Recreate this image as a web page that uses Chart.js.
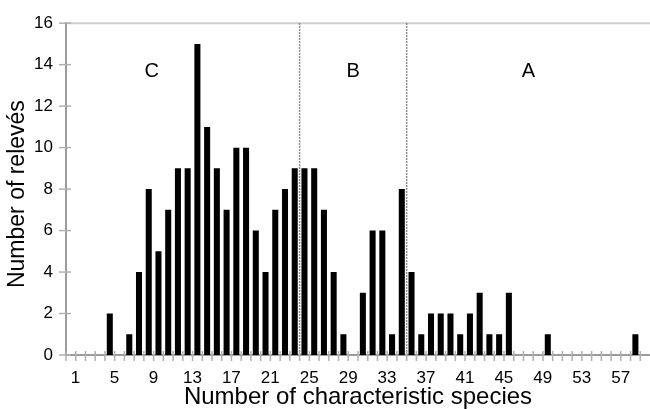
<!DOCTYPE html>
<html>
<head>
<meta charset="utf-8">
<script src="https://cdn.jsdelivr.net/npm/chart.js@4"></script>
<style>
  html, body { margin: 0; padding: 0; background: #fff; }
  #chart { display: block; }
</style>
</head>
<body>
<canvas id="chart" width="650" height="409"></canvas>
<script>
"use strict";

// ── DATA ─────────────────────────────────
const species = [
   0,  1,  2,  3,  4,  5,  6,  7,  8,  9,
  10, 11, 12, 13, 14, 15, 16, 17, 18, 19,
  20, 21, 22, 23, 24, 25, 26, 27, 28, 29,
  30, 31, 32, 33, 34, 35, 36, 37, 38, 39,
  40, 41, 42, 43, 44, 45, 46, 47, 48, 49,
  50, 51, 52, 53, 54, 55, 56, 57, 58, 59
];
const releves = [
   0,  0,  0,  0,  2,  0,  1,  4,  8,  5,
   7,  9,  9, 15, 11,  9,  7, 10, 10,  6,
   4,  7,  8,  9,  9,  9,  7,  4,  1,  0,
   3,  6,  6,  1,  8,  4,  1,  2,  2,  2,
   1,  2,  3,  1,  1,  3,  0,  0,  0,  1,
   0,  0,  0,  0,  0,  0,  0,  0,  1,  0
];
const xTickLabels = [1, 5, 9, 13, 17, 21, 25, 29, 33, 37, 41, 45, 49, 53, 57];
const yTicks = [0, 2, 4, 6, 8, 10, 12, 14, 16];

// zone boundaries (between categories) and zone letters
const zoneDividers = [23.5, 34.5];
const zoneNames    = ["C", "B", "A"];
const zoneNameX    = [8.3, 29, 47];
const zoneNameY    = 13.65;

const yTitle = "Number of relevés";
const FONT = "'Liberation Sans', Arial, Helvetica, sans-serif";

// ── PLUGIN: frame, crossing ticks, dividers, zone letters, y title ──
const decor = {
  id: "decor",
  beforeDatasetsDraw(chart) {
    const { ctx, chartArea: a, scales: { x, y } } = chart;
    const half = (x.getPixelForValue(1) - x.getPixelForValue(0)) / 2;
    ctx.save();
    // top frame
    ctx.strokeStyle = "#cfcfcf";
    ctx.lineWidth = 2;
    ctx.beginPath();
    ctx.moveTo(a.left, a.top); ctx.lineTo(a.right, a.top);
    ctx.stroke();

    // dotted dividers
    ctx.strokeStyle = "#6a6a6a";
    ctx.lineWidth = 1.5;
    ctx.setLineDash([1.5, 1.5]);
    zoneDividers.forEach((v) => {
      const px = x.getPixelForValue(Math.floor(v)) + half;
      ctx.beginPath();
      ctx.moveTo(px, a.top); ctx.lineTo(px, a.bottom);
      ctx.stroke();
    });
    ctx.setLineDash([]);

    // x ticks crossing the axis, at category boundaries
    ctx.strokeStyle = "#b0b0b0";
    ctx.lineWidth = 1.5;
    species.forEach((s, i) => {
      const px = x.getPixelForValue(i) - half;
      ctx.beginPath();
      ctx.moveTo(px, a.bottom - 4); ctx.lineTo(px, a.bottom + 6);
      ctx.stroke();
    });
    // y ticks crossing the axis
    yTicks.forEach((t) => {
      const py = y.getPixelForValue(t);
      ctx.beginPath();
      ctx.moveTo(a.left - 7, py); ctx.lineTo(a.left + 5, py);
      ctx.stroke();
    });

    // zone letters
    ctx.fillStyle = "#000";
    ctx.font = "20px " + FONT;
    ctx.textAlign = "center";
    ctx.textBaseline = "middle";
    zoneNames.forEach((n, i) => {
      ctx.fillText(n, x.getPixelForValue(zoneNameX[i]), y.getPixelForValue(zoneNameY));
    });

    // y axis title (drawn here so it sits a bit below the area centre, as in the source)
    ctx.font = "23px " + FONT;
    ctx.translate(18, (a.top + a.bottom) / 2 + 5);
    ctx.rotate(-Math.PI / 2);
    ctx.fillText(yTitle, 0, 0);
    ctx.restore();
  }
};

new Chart(document.getElementById("chart").getContext("2d"), {
  type: "bar",
  data: {
    labels: species,
    datasets: [{
      data: releves,
      backgroundColor: "#000",
      borderWidth: 0,
      barPercentage: 0.62,
      categoryPercentage: 1.0,
    }],
  },
  options: {
    responsive: false,
    animation: false,
    layout: { padding: { top: 20, right: 0, left: 0, bottom: 0 } },
    plugins: { legend: { display: false }, tooltip: { enabled: false } },
    scales: {
      x: {
        afterFit: (s) => { s.height = 54; s.paddingLeft = 0; s.paddingRight = 0; },
        grid: { display: false, drawTicks: false },
        border: { display: true, color: "#9c9c9c", width: 2 },
        ticks: {
          autoSkip: false,
          maxRotation: 0,
          padding: 13,
          labelOffset: -5,
          color: "#000",
          font: { family: FONT, size: 17 },
          callback: (v, i) => (xTickLabels.includes(species[i]) ? String(species[i]) : ""),
        },
        title: {
          display: true,
          text: "Number of characteristic species",
          color: "#000",
          font: { family: FONT, size: 24, lineHeight: 0.95 },
          padding: { top: 0, bottom: 0 },
        },
      },
      y: {
        min: 0,
        max: 16,
        afterFit: (s) => { s.width = 66; },
        grid: { display: false, drawTicks: false },
        border: { display: true, color: "#9c9c9c", width: 2 },
        ticks: {
          stepSize: 2,
          padding: 13,
          color: "#000",
          font: { family: FONT, size: 17 },
        },
      },
    },
  },
  plugins: [decor],
});
</script>
</body>
</html>
